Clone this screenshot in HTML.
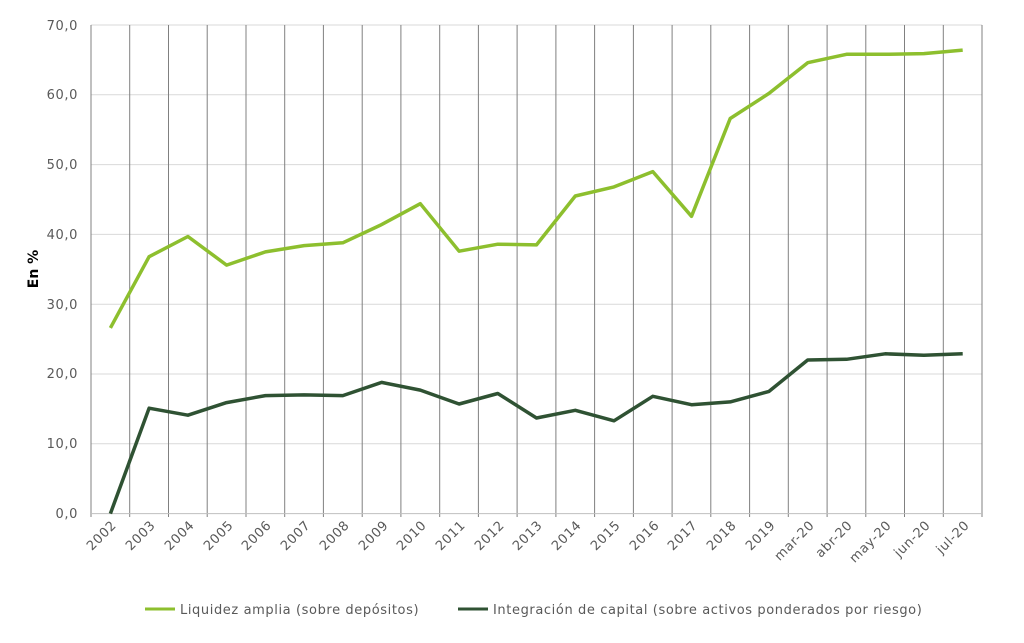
<!DOCTYPE html>
<html><head><meta charset="utf-8"><style>body{margin:0;background:#fff}svg{display:block;font-family:"DejaVu Sans","Liberation Sans",sans-serif}</style></head><body>
<svg width="1024" height="643" xmlns="http://www.w3.org/2000/svg">
<g stroke="#d9d9d9" stroke-width="1">
<line x1="91" x2="982" y1="443.8" y2="443.8"/><line x1="91" x2="982" y1="374" y2="374"/><line x1="91" x2="982" y1="304.2" y2="304.2"/><line x1="91" x2="982" y1="234.4" y2="234.4"/><line x1="91" x2="982" y1="164.6" y2="164.6"/><line x1="91" x2="982" y1="94.8" y2="94.8"/><line x1="91" x2="982" y1="25" y2="25"/>
</g>
<g stroke="#808080" stroke-width="1">
<line x1="91" x2="91" y1="25" y2="517"/><line x1="129.7" x2="129.7" y1="25" y2="517"/><line x1="168.5" x2="168.5" y1="25" y2="517"/><line x1="207.2" x2="207.2" y1="25" y2="517"/><line x1="246" x2="246" y1="25" y2="517"/><line x1="284.7" x2="284.7" y1="25" y2="517"/><line x1="323.4" x2="323.4" y1="25" y2="517"/><line x1="362.2" x2="362.2" y1="25" y2="517"/><line x1="400.9" x2="400.9" y1="25" y2="517"/><line x1="439.7" x2="439.7" y1="25" y2="517"/><line x1="478.4" x2="478.4" y1="25" y2="517"/><line x1="517.1" x2="517.1" y1="25" y2="517"/><line x1="555.9" x2="555.9" y1="25" y2="517"/><line x1="594.6" x2="594.6" y1="25" y2="517"/><line x1="633.4" x2="633.4" y1="25" y2="517"/><line x1="672.1" x2="672.1" y1="25" y2="517"/><line x1="710.8" x2="710.8" y1="25" y2="517"/><line x1="749.6" x2="749.6" y1="25" y2="517"/><line x1="788.3" x2="788.3" y1="25" y2="517"/><line x1="827.1" x2="827.1" y1="25" y2="517"/><line x1="865.8" x2="865.8" y1="25" y2="517"/><line x1="904.5" x2="904.5" y1="25" y2="517"/><line x1="943.3" x2="943.3" y1="25" y2="517"/><line x1="982" x2="982" y1="25" y2="517"/>
</g>
<line x1="91" x2="982" y1="513.6" y2="513.6" stroke="#bfbfbf"/>
<g fill="#595959" font-size="13" text-anchor="end" letter-spacing="0.6">
<text x="78" y="518">0,0</text><text x="78" y="448">10,0</text><text x="78" y="378">20,0</text><text x="78" y="309">30,0</text><text x="78" y="239">40,0</text><text x="78" y="169">50,0</text><text x="78" y="99">60,0</text><text x="78" y="30">70,0</text>
</g>
<text transform="translate(38,269) rotate(-90)" text-anchor="middle" font-size="14" font-weight="bold" fill="#000">En %</text>
<g fill="#595959" font-size="13" text-anchor="end" letter-spacing="0.6">
<text transform="translate(117,526) rotate(-45)">2002</text><text transform="translate(156,526) rotate(-45)">2003</text><text transform="translate(195,526) rotate(-45)">2004</text><text transform="translate(234,526) rotate(-45)">2005</text><text transform="translate(272,526) rotate(-45)">2006</text><text transform="translate(311,526) rotate(-45)">2007</text><text transform="translate(350,526) rotate(-45)">2008</text><text transform="translate(389,526) rotate(-45)">2009</text><text transform="translate(427,526) rotate(-45)">2010</text><text transform="translate(466,526) rotate(-45)">2011</text><text transform="translate(505,526) rotate(-45)">2012</text><text transform="translate(543,526) rotate(-45)">2013</text><text transform="translate(582,526) rotate(-45)">2014</text><text transform="translate(621,526) rotate(-45)">2015</text><text transform="translate(660,526) rotate(-45)">2016</text><text transform="translate(698,526) rotate(-45)">2017</text><text transform="translate(737,526) rotate(-45)">2018</text><text transform="translate(776,526) rotate(-45)">2019</text><text transform="translate(815,526) rotate(-45)">mar-20</text><text transform="translate(853,526) rotate(-45)">abr-20</text><text transform="translate(892,526) rotate(-45)">may-20</text><text transform="translate(931,526) rotate(-45)">jun-20</text><text transform="translate(970,526) rotate(-45)">jul-20</text>
</g>
<polyline fill="none" stroke="#8dbf2e" stroke-width="3.5" stroke-linejoin="round" points="110.4,327.9 149.1,256.7 187.9,236.5 226.6,265.1 265.4,251.9 304.1,245.6 342.8,242.8 381.6,224.6 420.3,203.7 459.1,251.2 497.8,244.2 536.5,244.9 575.3,196 614,186.9 652.8,171.6 691.5,216.3 730.2,118.5 769,93.4 807.7,62.7 846.5,54.3 885.2,54.3 923.9,53.6 962.7,50.1"/>
<polyline fill="none" stroke="#2f5233" stroke-width="3.5" stroke-linejoin="round" points="110.4,513.6 149.1,408.2 187.9,415.2 226.6,402.6 265.4,395.6 304.1,394.9 342.8,395.6 381.6,382.4 420.3,390.1 459.1,404 497.8,393.5 536.5,418 575.3,410.3 614,420.8 652.8,396.3 691.5,404.7 730.2,401.9 769,391.4 807.7,360 846.5,359.3 885.2,353.8 923.9,355.2 962.7,353.8"/>
<line x1="145" x2="175" y1="609" y2="609" stroke="#8dbf2e" stroke-width="3"/>
<text x="180" y="614" font-size="13" fill="#595959" letter-spacing="0.6">Liquidez amplia (sobre depósitos)</text>
<line x1="458" x2="488" y1="609" y2="609" stroke="#2f5233" stroke-width="3"/>
<text x="493" y="614" font-size="13" fill="#595959" letter-spacing="0.6">Integración de capital (sobre activos ponderados por riesgo)</text>
</svg>
</body></html>
